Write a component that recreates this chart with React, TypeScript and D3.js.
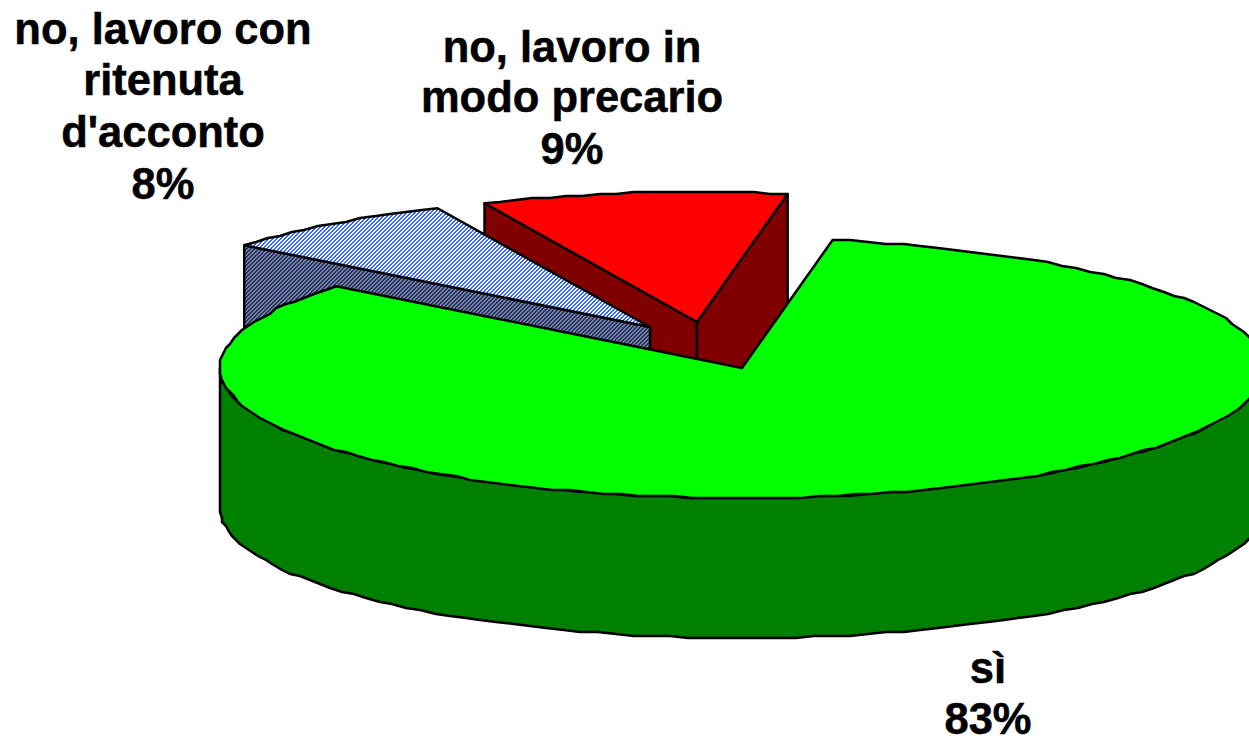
import React from "react";
import * as d3 from "d3";

const categories = ["sì", "no, lavoro con ritenuta d'acconto", "no, lavoro in modo precario"];
const sliceValues = [83.05, 7.5, 9.45];
const startDegrees = 10;

const labelLines = [
  ["sì", "83%"],
  ["no, lavoro con", "ritenuta", "d'acconto", "8%"],
  ["no, lavoro in", "modo precario", "9%"],
];
const labelCenters = [988, 163, 572];
const labelBaselines = [
  [683, 734],
  [44, 95, 147, 199],
  [62, 112, 164],
];

const explode = [
  [0, 0],
  [-92, -41],
  [-45, -46],
];

const W = 1249;
const H = 737;
const CX = 742;
const CY = 368;
const RX = 522;
const RY = 130;
const DEPTH = 140;
const GRID = 2;
const ARC_STEP = (2 * Math.PI) / 180;

const px = d3.scaleLinear().domain([-1, 1]).range([CX - RX, CX + RX]);
const py = d3.scaleLinear().domain([-1, 1]).range([CY + RY, CY - RY]);

type P = [number, number];
const snap = (v: number) => Math.round(v / GRID) * GRID;
const pt = (a: number, dx = 0, dy = 0): P => [px(Math.sin(a)) + dx, py(Math.cos(a)) + dy];
const lineGen = d3.line<P>().x((d) => d[0]).y((d) => d[1]);
const closed = (pts: P[]) => lineGen(pts) + "Z";
// The reference's rim is a coarse polygon, so rim points sit on a small grid.
const arcPts = (a0: number, a1: number, dx = 0, dy = 0): P[] => {
  const n = Math.max(2, Math.ceil(Math.abs(a1 - a0) / ARC_STEP));
  return d3.range(n + 1).map((i) => {
    const p = pt(a0 + ((a1 - a0) * i) / n, dx, dy);
    return i === 0 || i === n ? p : [snap(p[0]), snap(p[1])];
  });
};

const slices = d3
  .pie<number>()
  .sort(null)
  .startAngle((startDegrees * Math.PI) / 180)
  .endAngle((startDegrees * Math.PI) / 180 + 2 * Math.PI)(sliceValues);

const stroke = { stroke: "#000", strokeWidth: 2.5, strokeLinejoin: "round" as const };

function Tile({ id, a, b }: { id: string; a: string; b: string }) {
  const cells: P[] = [[2, 0], [3, 0], [1, 1], [2, 1], [0, 2], [1, 2], [3, 3], [0, 3]];
  return (
    <pattern id={id} width={4} height={4} patternUnits="userSpaceOnUse">
      <rect width={4} height={4} fill={b} />
      {cells.map(([x, y], i) => (
        <rect key={i} x={x} y={y} width={1} height={1} fill={a} />
      ))}
    </pattern>
  );
}

export default function App() {
  const [green, blue, red] = slices;
  const [bx, by] = explode[1];
  const [rx, ry] = explode[2];
  const redApex: P = [CX + rx, CY + ry];
  const blueApex: P = [CX + bx, CY + by];
  const rA = pt(red.startAngle, rx, ry);
  const rB = pt(red.endAngle, rx, ry);
  const bA = pt(blue.startAngle, bx, by);
  const down = (p: P): P => [p[0], p[1] + DEPTH];

  const greenTop = closed([[CX, CY], ...arcPts(green.startAngle, green.endAngle)]);
  const greenSide = closed([
    ...arcPts(Math.PI / 2, (3 * Math.PI) / 2),
    ...arcPts((3 * Math.PI) / 2, Math.PI / 2, 0, DEPTH),
  ]);

  return (
    <svg width={W} height={H} style={{ position: "fixed", left: 0, top: 0, background: "#fff" }}>
      <defs>
        <Tile id="blueTop" a="#3366ff" b="#ffffff" />
        <Tile id="blueSide" a="#1a3380" b="#808080" />
      </defs>

      {/* red slice */}
      <path d={closed([rA, redApex, down(redApex), down(rA)])} fill="#800000" {...stroke} />
      <path d={closed([redApex, rB, down(rB), down(redApex)])} fill="#800000" {...stroke} />
      <path d={closed([redApex, ...arcPts(red.startAngle, red.endAngle, rx, ry)])} fill="#ff0000" {...stroke} />

      {/* blue slice */}
      <path d={closed([bA, blueApex, down(blueApex), down(bA)])} fill="url(#blueSide)" {...stroke} />
      <path d={closed([blueApex, ...arcPts(blue.startAngle, blue.endAngle, bx, by)])} fill="url(#blueTop)" {...stroke} />

      {/* green slice */}
      <path d={greenSide} fill="#008000" {...stroke} />
      <path d={greenTop} fill="#00ff00" {...stroke} />

      {/* labels */}
      {categories.map((c, i) => (
        <text
          key={c}
          textAnchor="middle"
          fontFamily="'Liberation Sans', Arial, sans-serif"
          fontWeight={700}
          fontSize={43.5}
          fill="#000"
          stroke="#000"
          strokeWidth={0.5}
        >
          {labelLines[i].map((l, j) => (
            <tspan key={j} x={labelCenters[i]} y={labelBaselines[i][j]}>
              {l}
            </tspan>
          ))}
        </text>
      ))}
    </svg>
  );
}
